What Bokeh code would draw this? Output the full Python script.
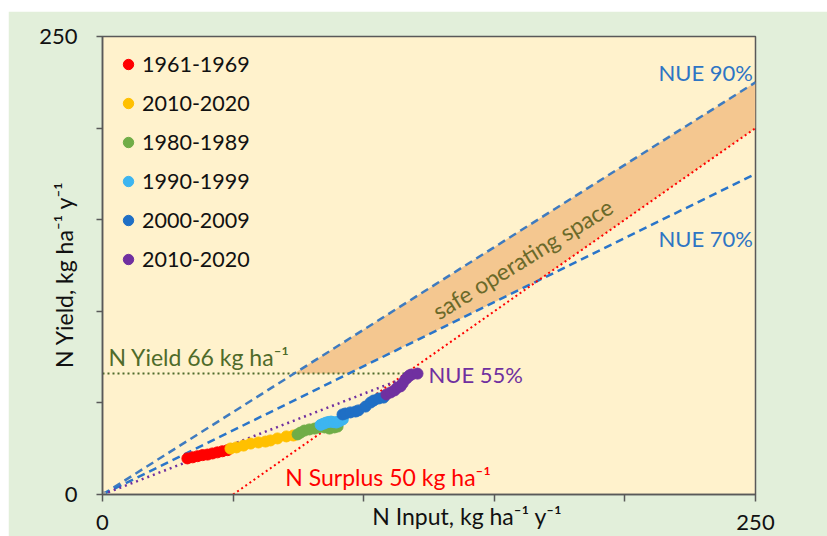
import math
from bokeh.plotting import figure
from bokeh.models import Range1d, FixedTicker, Label, Legend, LegendItem
from bokeh.embed import file_html
from bokeh.resources import INLINE

# ---------------- data ----------------
period_labels = ["1961-1969", "2010-2020", "1980-1989", "1990-1999", "2000-2009", "2010-2020"]
period_colors = ["#ff0000", "#ffc000", "#70ad47", "#3db5f0", "#1f6fc5", "#7030a0"]

red_x = [32.5, 34.5, 36.4, 38.3, 40.2, 42.1, 44.0, 45.9, 47.9]
red_y = [19.7, 20.3, 20.9, 21.5, 21.8, 22.4, 23.0, 23.6, 24.2]
gold_x = [49.0, 51.3, 54.0, 56.7, 59.7, 62.4, 64.3, 67.0, 70.4, 73.1]
gold_y = [25.1, 25.7, 26.7, 27.8, 28.4, 28.9, 29.5, 30.6, 31.7, 32.2]
green_x = [74.7, 75.8, 77.3, 79.2, 81.2, 82.7, 85.0, 86.9, 88.8, 90.0]
green_y = [32.8, 33.8, 34.9, 35.5, 36.0, 36.6, 36.6, 36.0, 36.6, 37.1]
lblue_x = [83.5, 84.5, 85.5, 86.5, 87.5, 88.5, 89.5, 90.3, 91.0, 92.0]
lblue_y = [38.0, 38.6, 39.2, 39.6, 39.8, 39.5, 39.3, 39.8, 40.3, 41.0]
blue_x = [91.9, 93.0, 94.9, 96.9, 98.0, 100.7, 102.6, 103.8, 105.7, 107.6]
blue_y = [43.7, 44.2, 44.8, 45.3, 45.9, 48.0, 50.2, 51.3, 52.4, 52.9]
purple_x = [108.7, 110.3, 111.8, 112.9, 114.1, 114.9, 116.0, 116.8, 117.5, 118.3, 120.6]
purple_y = [54.6, 55.7, 56.8, 58.4, 59.0, 60.6, 62.8, 63.9, 65.0, 65.5, 66.0]

nue_high = 0.90
nue_low = 0.70
nue_current = 0.55
surplus_limit = 50
yield_target = 66
axis_max = 250
tick_values = [0, 50, 100, 150, 200, 250]

x_title = "N Input, kg ha\u207b\u00b9 y\u207b\u00b9"
y_title = "N Yield, kg ha\u207b\u00b9 y\u207b\u00b9"

FONT = "Lato"

p = figure(width=819, height=525,
           x_range=Range1d(0, axis_max), y_range=Range1d(0, axis_max),
           output_backend="svg", toolbar_location=None,
           min_border_left=94, min_border_right=72,
           min_border_top=25, min_border_bottom=42,
           background_fill_color="#fff2cc", border_fill_color="#e2efda")
p.margin = (11, 0, 0, 8)
p.grid.visible = False
p.outline_line_color = "#595959"
p.outline_line_width = 1.5

# ---------------- safe operating space ----------------
x_a = yield_target / nue_high
x_b = yield_target / nue_low
x_c = surplus_limit / (1 - nue_low)
band_x = [x_a, axis_max, axis_max, x_c, x_b]
band_y = [yield_target, nue_high * axis_max, axis_max - surplus_limit, x_c - surplus_limit, yield_target]
p.patch(band_x, band_y, fill_color="#f4c790", line_color=None)

# ---------------- reference lines ----------------
x_end = max(purple_x)
p.line([0, x_end], [yield_target, yield_target], line_color="#4f6b2a", line_width=2, line_dash="2 3")
p.line([0, axis_max], [0, nue_high * axis_max], line_color="#3f7bbf", line_width=2.5, line_dash="8 5")
p.line([0, axis_max], [0, nue_low * axis_max], line_color="#2a75c9", line_width=2.5, line_dash="8 5")
p.line([surplus_limit, axis_max], [0, axis_max - surplus_limit], line_color="#ff0000", line_width=2, line_dash="2 3")
p.line([0, x_end], [0, nue_current * x_end], line_color="#7030a0", line_width=2.5, line_dash="2 4")
p.scatter([0], [0], size=7, color="#a6a6a6")

# ---------------- data points ----------------
series = [(red_x, red_y), (gold_x, gold_y), (green_x, green_y),
          (lblue_x, lblue_y), (blue_x, blue_y), (purple_x, purple_y)]
renderers = []
for (xs, ys), c in zip(series, period_colors):
    r = p.scatter(xs, ys, size=11, fill_color=c, line_color=c)
    renderers.append(r)

legend = Legend(items=[LegendItem(label=l, renderers=[r]) for l, r in zip(period_labels, renderers)],
                location="top_left", margin=3, padding=10, spacing=9,
                glyph_width=26, glyph_height=30, label_height=30, label_standoff=1,
                label_text_font=FONT, label_text_font_size="21.5px", label_text_color="#111111",
                background_fill_alpha=0, border_line_alpha=0)
p.add_layout(legend)

# ---------------- axes ----------------
for ax in (p.xaxis, p.yaxis):
    ax.ticker = FixedTicker(ticks=tick_values)
    ax.major_label_overrides = {t: "" for t in tick_values[1:-1]}
    ax.axis_line_color = "#595959"
    ax.axis_line_width = 1.5
    ax.major_tick_line_color = "#595959"
    ax.major_tick_line_width = 1.5
    ax.major_tick_in = 0
    ax.minor_tick_line_color = None
    ax.major_label_text_font = FONT
    ax.major_label_text_font_size = "22px"
    ax.major_label_text_color = "#111111"
    ax.axis_label_text_font = FONT
    ax.axis_label_text_font_size = "23px"
    ax.axis_label_text_font_style = "normal"
    ax.axis_label_text_color = "#111111"

# x title sits level with the tick labels, a little right of centre
p.xaxis.axis_label = "\u00a0" * 13 + x_title
p.xaxis.major_tick_out = 7
p.xaxis.major_label_standoff = 13
p.xaxis.axis_label_standoff = -31

p.yaxis.axis_label = y_title + "\u00a0" * 3
p.yaxis.major_tick_out = 6
p.yaxis.major_label_standoff = 19
p.yaxis.axis_label_standoff = -42

# ---------------- annotations ----------------
p.add_layout(Label(x=249, y=230.5, text=f"NUE {round(nue_high*100)}%", text_align="right",
                   text_baseline="middle", text_font=FONT, text_font_size="22px", text_color="#2e75c4"))
p.add_layout(Label(x=249, y=139.5, text=f"NUE {round(nue_low*100)}%", text_align="right",
                   text_baseline="middle", text_font=FONT, text_font_size="22px", text_color="#2e75c4"))
p.add_layout(Label(x=124.8, y=65.5, text=f"NUE {round(nue_current*100)}%", text_align="left",
                   text_baseline="middle", text_font=FONT, text_font_size="22px", text_color="#7030a0"))
p.add_layout(Label(x=2.3, y=75, text=f"N Yield {yield_target} kg ha\u207b\u00b9", text_align="left",
                   text_baseline="middle", text_font=FONT, text_font_size="23px", text_color="#4f6b2a"))
p.add_layout(Label(x=70, y=9.8, text=f"N Surplus {surplus_limit} kg ha\u207b\u00b9", text_align="left",
                   text_baseline="middle", text_font=FONT, text_font_size="23px", text_color="#ff0000"))
p.add_layout(Label(x=160.8, y=128.8, text="safe operating space", angle=0.553, text_align="center",
                   text_baseline="middle", text_font=FONT, text_font_size="23px", text_color="#6b6a2a"))

open("out.html", "w").write(file_html(p, INLINE))
